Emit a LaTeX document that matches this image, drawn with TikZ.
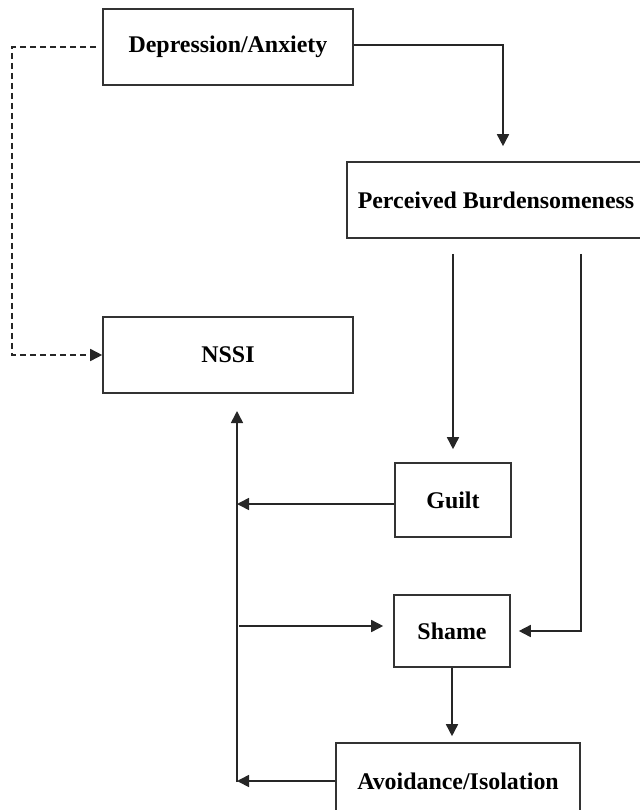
\documentclass[tikz,border=0pt]{standalone}
\usepackage{fontspec}
\setmainfont{Liberation Serif}
\usetikzlibrary{arrows.meta}
\begin{document}
\begin{tikzpicture}[x=1bp,y=-1bp,
  box/.style={draw=black!80, line width=1.6bp, fill=white, inner sep=0pt,
    font=\fontsize{24}{28}\selectfont\bfseries},
  link/.style={draw=black!85, line width=1.6bp,
    -{Triangle[length=12bp,width=12bp]}},
  hint/.style={link, dashed, dash pattern=on 6bp off 4bp}]
\useasboundingbox (0,0) rectangle (640,810);

% factor boxes
\node[box, minimum width=250bp, minimum height=76bp] (dep)   at (228,47)  {Depression/Anxiety};
\node[box, minimum width=298bp, minimum height=76bp] (pb)    at (496,200) {Perceived Burdensomeness};
\node[box, minimum width=250bp, minimum height=76bp] (nssi)  at (228,355) {NSSI};
\node[box, minimum width=116bp, minimum height=74bp] (guilt) at (453,500) {Guilt};
\node[box, minimum width=116bp, minimum height=72bp] (shame) at (452,631) {Shame};
\node[box, minimum width=244bp, minimum height=76bp] (avoid) at (458,781) {Avoidance/Isolation};

% shared return line into NSSI
\coordinate (trunkTop) at (237,411);
\coordinate (trunkBot) at (237,782);
\coordinate (branch)   at (239,626);
\coordinate (dashTurn) at (12,47);

% Depression/Anxiety -> Perceived Burdensomeness
\draw[link, shorten >=15bp] ([yshift=2bp]dep.east) -| ([xshift=7bp]pb.north);
% Depression/Anxiety -> NSSI (dashed)
\draw[hint, shorten <=6bp] (dep.west) -- (dashTurn) |- (nssi.west);
% Perceived Burdensomeness -> Guilt
\draw[link, shorten <=15bp, shorten >=13bp] (pb.south -| guilt.north) -- (guilt.north);
% Perceived Burdensomeness -> Shame
\draw[link, shorten <=15bp, shorten >=8bp] (pb.south -| avoid.east) |- (shame.east);
% Guilt -> return line
\draw[link] ([yshift=-4bp]guilt.west) -- ([yshift=-4bp]guilt.west -| trunkTop);
% return line -> NSSI
\draw[link] (trunkBot) -- (trunkTop);
% return line -> Shame
\draw[link, shorten >=10bp] (branch) -- (branch -| shame.west);
% Shame -> Avoidance/Isolation
\draw[link, shorten >=6bp] (shame.south) -- (shame.south |- avoid.north);
% Avoidance/Isolation -> return line
\draw[link] (avoid.west) -- (avoid.west -| trunkBot);
\end{tikzpicture}
\end{document}
